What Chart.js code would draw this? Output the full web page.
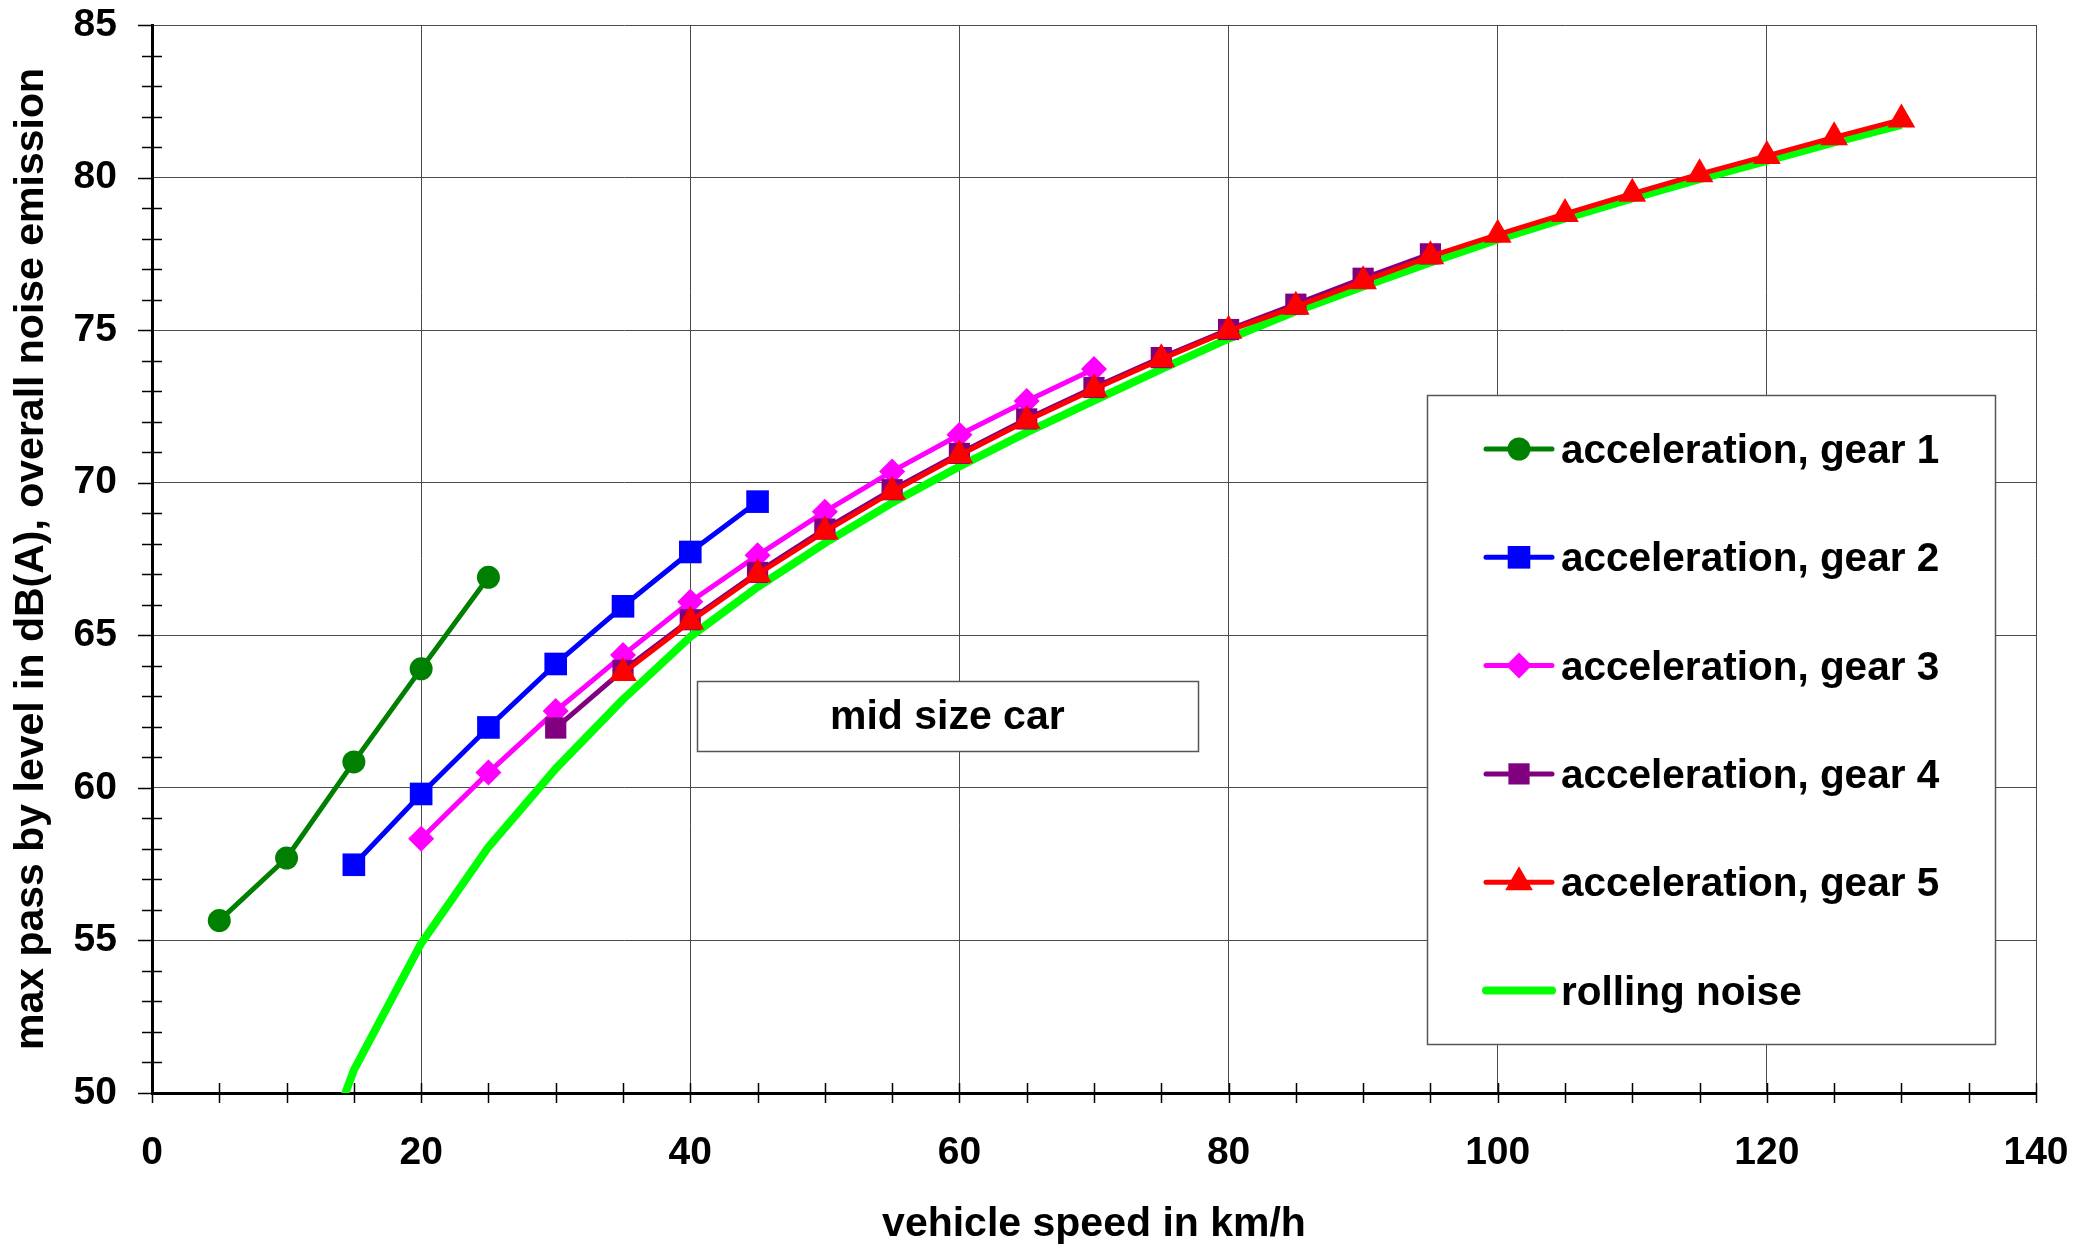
<!DOCTYPE html>
<html><head><meta charset="utf-8">
<script src="https://cdn.jsdelivr.net/npm/chart.js@4.4.1/dist/chart.umd.min.js"></script>
<style>html,body{margin:0;padding:0;background:#fff;overflow:hidden}#wrap{width:2092px;height:1244px}</style>
</head><body><div id="wrap"><canvas id="c" width="2092" height="1244"></canvas></div>
<script>
// ---- data ----
const gear1Speed = [5, 10, 15, 20, 25];
const gear1Level = [55.65, 57.7, 60.85, 63.9, 66.9];
const gear2Speed = [15, 20, 25, 30, 35, 40, 45];
const gear2Level = [57.48, 59.8, 61.98, 64.06, 65.95, 67.73, 69.38];
const gear3Speed = [20, 25, 30, 35, 40, 45, 50, 55, 60, 65, 70];
const gear3Level = [58.33, 60.5, 62.52, 64.35, 66.1, 67.62, 69.05, 70.37, 71.57, 72.68, 73.73];
const gear4Speed = [30, 35, 40, 45, 50, 55, 60, 65, 70, 75, 80, 85, 90, 95];
const gear4Level = [61.96, 63.85, 65.51, 67.06, 68.48, 69.77, 70.96, 72.09, 73.12, 74.1, 75.02, 75.85, 76.7, 77.5];
const gear5Speed = [35, 40, 45, 50, 55, 60, 65, 70, 75, 80, 85, 90, 95, 100, 105, 110, 115, 120, 125, 130];
const gear5Level = [63.76, 65.45, 67.0, 68.4, 69.7, 70.9, 72.03, 73.06, 74.05, 74.98, 75.77, 76.6, 77.42, 78.13, 78.81, 79.47, 80.11, 80.71, 81.32, 81.9];
const rollingSpeed = [10, 15, 20, 25, 30, 35, 40, 45, 50, 55, 60, 65, 70, 75, 80, 85, 90, 95, 100, 105, 110, 115, 120, 125, 130];
const rollingLevel = [44.8, 50.75, 54.9, 58.06, 60.63, 62.9, 64.95, 66.58, 68.02, 69.34, 70.53, 71.65, 72.69, 73.72, 74.72, 75.62, 76.43, 77.22, 77.97, 78.66, 79.32, 79.95, 80.55, 81.15, 81.73];
const seriesNames = ['acceleration, gear 1', 'acceleration, gear 2', 'acceleration, gear 3', 'acceleration, gear 4', 'acceleration, gear 5', 'rolling noise'];
const xTickValues = [0, 20, 40, 60, 80, 100, 120, 140];
const yTickValues = [50, 55, 60, 65, 70, 75, 80, 85];
const xTitle = 'vehicle speed in km/h';
const yTitle = 'max pass by level in dB(A), overall noise emission';
const boxLabel = 'mid size car';

const FONT = '"Liberation Sans", Arial, Helvetica, sans-serif';
const pts = (xs, ys) => xs.map((x, i) => ({x: x, y: ys[i]}));

const styles = [
  {color: '#008000', style: 'circle', radius: 11.5, width: 5, order: 5},
  {color: '#0000ff', style: 'rect', radius: 16, width: 5, order: 4},
  {color: '#ff00ff', style: 'rectRot', radius: 13, width: 5, order: 3},
  {color: '#800080', style: 'rect', radius: 15, width: 5, order: 2},
  {color: '#ff0000', style: 'triangle', radius: 16, width: 5, order: 1},
  {color: '#00ff00', style: false, radius: 0, width: 8, order: 6}
];
const seriesData = [
  pts(gear1Speed, gear1Level), pts(gear2Speed, gear2Level), pts(gear3Speed, gear3Level),
  pts(gear4Speed, gear4Level), pts(gear5Speed, gear5Level), pts(rollingSpeed, rollingLevel)
];

const datasets = seriesData.map((d, i) => ({
  label: seriesNames[i],
  data: d,
  borderColor: styles[i].color,
  backgroundColor: styles[i].color,
  borderWidth: styles[i].width,
  pointStyle: styles[i].style || 'circle',
  pointRadius: styles[i].radius,
  pointHoverRadius: styles[i].radius,
  pointBorderWidth: 0,
  pointBackgroundColor: styles[i].color,
  tension: 0,
  order: styles[i].order,
  borderJoinStyle: 'round'
}));

const decor = {
  id: 'decor',
  beforeDatasetsDraw(chart) {
    const ctx = chart.ctx, xs = chart.scales.x, ys = chart.scales.y;
    const ca = chart.chartArea;
    ctx.save();
    ctx.strokeStyle = '#000';
    ctx.lineWidth = 1.5;
    ctx.beginPath();
    for (let v = xs.min; v <= xs.max; v += 5) {
      const px = Math.round(xs.getPixelForValue(v)) + 0.5;
      ctx.moveTo(px, ca.bottom - 10);
      ctx.lineTo(px, ca.bottom + 10);
    }
    for (let v = ys.min; v <= ys.max; v += 1) {
      const py = Math.round(ys.getPixelForValue(v)) + 0.5;
      if (v % 5 === 0) {
        ctx.moveTo(ca.left - 14, py);
        ctx.lineTo(ca.left, py);
      } else {
        ctx.moveTo(ca.left - 10, py);
        ctx.lineTo(ca.left + 10, py);
      }
    }
    ctx.stroke();
    ctx.restore();
  },
  afterDatasetsDraw(chart) {
    const ctx = chart.ctx, xs = chart.scales.x, ys = chart.scales.y;
    const ca = chart.chartArea;
    ctx.save();
    // "mid size car" box
    const bx1 = xs.getPixelForValue(40.5), bx2 = xs.getPixelForValue(77.7);
    const by1 = ys.getPixelForValue(63.5), by2 = ys.getPixelForValue(61.2);
    ctx.fillStyle = '#fff';
    ctx.fillRect(bx1, by1, bx2 - bx1, by2 - by1);
    ctx.strokeStyle = '#555';
    ctx.lineWidth = 1.5;
    ctx.strokeRect(Math.round(bx1) + 0.5, Math.round(by1) + 0.5, Math.round(bx2 - bx1), Math.round(by2 - by1));
    ctx.fillStyle = '#000';
    ctx.font = 'bold 41px ' + FONT;
    ctx.textAlign = 'center';
    ctx.textBaseline = 'middle';
    ctx.fillText(boxLabel, (bx1 + bx2) / 2, (by1 + by2) / 2 + 2);

    // legend box
    const lx = ca.left + 1275, ly = ca.top + 370, lw = 568, lh = 649;
    ctx.fillStyle = '#fff';
    ctx.fillRect(lx, ly, lw, lh);
    ctx.strokeStyle = '#555';
    ctx.strokeRect(lx + 0.5, ly + 0.5, lw, lh);
    const rowStart = 54, rowStep = 108.3;
    seriesNames.forEach((name, i) => {
      const st = styles[i];
      const ry = ly + rowStart + i * rowStep;
      ctx.strokeStyle = st.color;
      ctx.lineWidth = st.width;
      ctx.lineCap = 'round';
      ctx.beginPath();
      ctx.moveTo(lx + 59, ry);
      ctx.lineTo(lx + 125, ry);
      ctx.stroke();
      if (st.style) {
        ctx.fillStyle = st.color;
        Chart.helpers.drawPoint(ctx, {pointStyle: st.style, radius: st.radius, borderWidth: 0, rotation: 0}, lx + 92, ry);
      }
      ctx.fillStyle = '#000';
      ctx.font = 'bold 40.5px ' + FONT;
      ctx.textAlign = 'left';
      ctx.textBaseline = 'middle';
      ctx.fillText(name, lx + 134, ry + 3);
    });
    ctx.restore();
  }
};

new Chart(document.getElementById('c'), {
  type: 'line',
  data: {datasets: datasets},
  options: {
    responsive: false,
    animation: false,
    devicePixelRatio: 1,
    layout: {padding: {top: 25, right: 56, left: 0, bottom: 0}},
    plugins: {legend: {display: false}, tooltip: {enabled: false}},
    scales: {
      x: {
        type: 'linear', min: 0, max: 140,
        afterBuildTicks: (axis) => { axis.ticks = xTickValues.map(v => ({value: v})); },
        afterFit: (axis) => { axis.height = 151; axis.paddingLeft = 0; axis.paddingRight = 0; },
        grid: {color: '#4a4a4a', lineWidth: 1, drawTicks: false},
        border: {color: '#000', width: 3},
        ticks: {padding: 37, color: '#000', font: {family: FONT, size: 39, weight: 'bold'}, maxRotation: 0, autoSkip: false},
        title: {display: true, text: xTitle, color: '#000', font: {family: FONT, size: 41, weight: 'bold', lineHeight: 0.95}, padding: {top: 0, bottom: 0}}
      },
      y: {
        type: 'linear', min: 50, max: 85,
        afterBuildTicks: (axis) => { axis.ticks = yTickValues.map(v => ({value: v})); },
        afterFit: (axis) => { axis.width = 152; axis.paddingTop = 0; axis.paddingBottom = 0; },
        grid: {color: '#4a4a4a', lineWidth: 1, drawTicks: false},
        border: {color: '#000', width: 3},
        ticks: {padding: 35, color: '#000', font: {family: FONT, size: 39, weight: 'bold'}, autoSkip: false},
        title: {display: true, text: yTitle, color: '#000', font: {family: FONT, size: 41, weight: 'bold', lineHeight: 1.1}, padding: {top: 9, bottom: 0}}
      }
    }
  },
  plugins: [decor]
});
</script>
</body></html>
